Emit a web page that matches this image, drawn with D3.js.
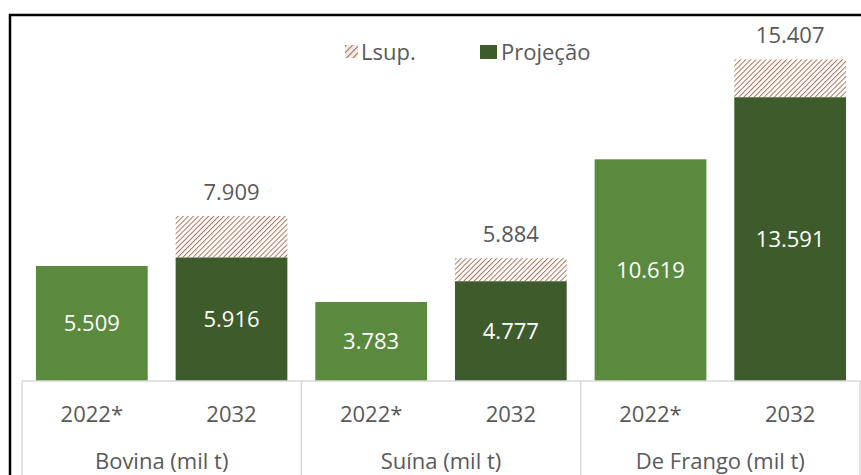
<!DOCTYPE html>
<html>
<head>
<meta charset="utf-8">
<script src="https://cdn.jsdelivr.net/npm/d3@7"></script>
<style>
  body { margin: 0; background: #fff; }
  text { font-family: "Open Sans", Lato, sans-serif; font-size: 22px; }
</style>
</head>
<body>
<div id="chart"></div>
<script>
// chart data
const categories = ["Bovina (mil t)", "Suína (mil t)", "De Frango (mil t)"];
const years = ["2022*", "2032"];
const base2022 = [5509, 3783, 10619];
const proj2032 = [5916, 4777, 13591];
const lsup2032 = [7909, 5884, 15407];
const legendLabels = ["Lsup.", "Projeção"];

const width = 861, height = 475;
const lightGreen = "#5a8a3e", darkGreen = "#3e5c2b", hatchColor = "#a96d54", textColor = "#595959";

const ptBR = d3.formatLocale({ decimal: ",", thousands: ".", grouping: [3], currency: ["R$", ""] });
const fmt = ptBR.format(",d");

const svg = d3.select("#chart").append("svg")
    .attr("width", width)
    .attr("height", height);

// hatch patterns for Lsup. (bars and legend swatch)
const defs = svg.append("defs");
function hatch(id, size, sw, bg) {
    const p = defs.append("pattern")
        .attr("id", id)
        .attr("patternUnits", "userSpaceOnUse")
        .attr("width", size)
        .attr("height", size)
        .attr("patternTransform", "rotate(45)");
    p.append("rect").attr("width", size).attr("height", size).attr("fill", bg);
    p.append("line")
        .attr("x1", 0).attr("y1", 0).attr("x2", 0).attr("y2", size)
        .attr("stroke", hatchColor).attr("stroke-width", sw);
}
hatch("hatch", 3.6, 1.9, "#fff");
hatch("hatchLeg", 4.6, 2.2, "#f1ece9");

// outer frame
svg.append("rect")
    .attr("x", 10).attr("y", 15)
    .attr("width", 880).attr("height", 500)
    .attr("fill", "none")
    .attr("stroke", "#000")
    .attr("stroke-width", 2.5);

const x0 = d3.scaleBand().domain(categories).range([22, 860]);
const x1 = d3.scaleBand().domain(years).range([0, x0.bandwidth()])
    .paddingInner(0.2).paddingOuter(0.1);
const y = d3.scaleLinear().domain([0, 16000]).range([381, 47]);

const rows = categories.map((c, i) => ({ cat: c, i: i }));

const groups = svg.selectAll("g.cat")
    .data(rows)
    .join("g")
    .attr("class", "cat")
    .attr("transform", d => `translate(${x0(d.cat)},0)`);

// 2022 bars
groups.append("rect")
    .attr("x", x1(years[0]))
    .attr("width", x1.bandwidth())
    .attr("y", d => y(base2022[d.i]))
    .attr("height", d => y(0) - y(base2022[d.i]))
    .attr("fill", lightGreen);

// 2032 Lsup hatch
groups.append("rect")
    .attr("x", x1(years[1]))
    .attr("width", x1.bandwidth())
    .attr("y", d => y(lsup2032[d.i]))
    .attr("height", d => y(proj2032[d.i]) - y(lsup2032[d.i]))
    .attr("fill", "url(#hatch)");

// 2032 projection
groups.append("rect")
    .attr("x", x1(years[1]))
    .attr("width", x1.bandwidth())
    .attr("y", d => y(proj2032[d.i]))
    .attr("height", d => y(0) - y(proj2032[d.i]))
    .attr("fill", darkGreen);

// value labels inside bars
groups.append("text")
    .attr("x", x1(years[0]) + x1.bandwidth() / 2)
    .attr("y", d => (y(0) + y(base2022[d.i])) / 2)
    .attr("dy", "0.35em")
    .attr("text-anchor", "middle")
    .attr("fill", "#fff")
    .text(d => fmt(base2022[d.i]));

groups.append("text")
    .attr("x", x1(years[1]) + x1.bandwidth() / 2)
    .attr("y", d => (y(0) + y(proj2032[d.i])) / 2)
    .attr("dy", "0.35em")
    .attr("text-anchor", "middle")
    .attr("fill", "#fff")
    .text(d => fmt(proj2032[d.i]));

// Lsup totals above bars
groups.append("text")
    .attr("x", x1(years[1]) + x1.bandwidth() / 2)
    .attr("y", d => y(lsup2032[d.i]) - 16)
    .attr("text-anchor", "middle")
    .attr("fill", textColor)
    .text(d => fmt(lsup2032[d.i]));

// axis: baseline and category separators
const axisColor = "#d9d9d9";
svg.append("line")
    .attr("x1", x0.range()[0]).attr("x2", x0.range()[1])
    .attr("y1", y(0)).attr("y2", y(0))
    .attr("stroke", axisColor).attr("stroke-width", 1.5);

svg.selectAll("line.sep")
    .data(categories.concat(["end"]))
    .join("line")
    .attr("class", "sep")
    .attr("x1", (d, i) => i < categories.length ? x0(d) : x0.range()[1])
    .attr("x2", (d, i) => i < categories.length ? x0(d) : x0.range()[1])
    .attr("y1", y(0)).attr("y2", height)
    .attr("stroke", axisColor).attr("stroke-width", 1.5);

// year tick labels
groups.selectAll("text.year")
    .data(years)
    .join("text")
    .attr("class", "year")
    .attr("x", d => x1(d) + x1.bandwidth() / 2)
    .attr("y", 422)
    .attr("text-anchor", "middle")
    .attr("fill", textColor)
    .text(d => d);

// category labels
groups.append("text")
    .attr("x", x0.bandwidth() / 2)
    .attr("y", 469)
    .attr("text-anchor", "middle")
    .attr("fill", textColor)
    .text(d => d.cat);

// legend
const legend = svg.append("g").attr("transform", "translate(345,0)");
legend.append("rect")
    .attr("x", 0).attr("y", 45).attr("width", 13).attr("height", 13)
    .attr("fill", "url(#hatchLeg)");
legend.append("text")
    .attr("x", 16).attr("y", 60)
    .attr("fill", textColor)
    .text(legendLabels[0]);
legend.append("rect")
    .attr("x", 135).attr("y", 45).attr("width", 17).attr("height", 14)
    .attr("fill", darkGreen);
legend.append("text")
    .attr("x", 156).attr("y", 60)
    .attr("fill", textColor)
    .text(legendLabels[1]);
</script>
</body>
</html>
